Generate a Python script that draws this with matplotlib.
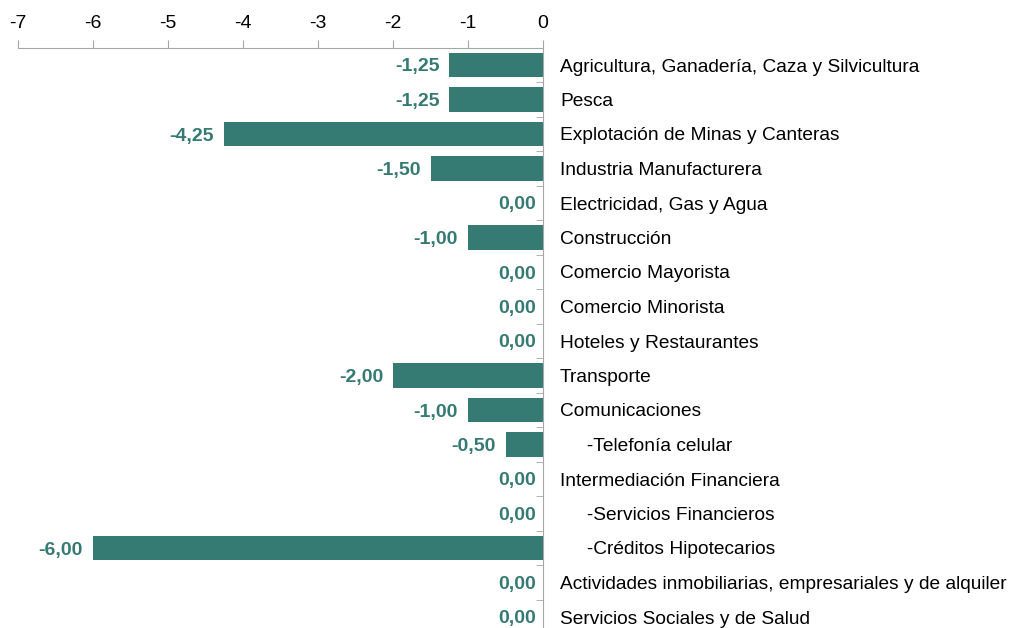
import matplotlib
matplotlib.use("Agg")
import matplotlib.pyplot as plt
import numpy as np

plt.rcParams['font.family'] = ['Liberation Sans', 'DejaVu Sans']

categories = [
    "Agricultura, Ganadería, Caza y Silvicultura",
    "Pesca",
    "Explotación de Minas y Canteras",
    "Industria Manufacturera",
    "Electricidad, Gas y Agua",
    "Construcción",
    "Comercio Mayorista",
    "Comercio Minorista",
    "Hoteles y Restaurantes",
    "Transporte",
    "Comunicaciones",
    "     -Telefonía celular",
    "Intermediación Financiera",
    "     -Servicios Financieros",
    "     -Créditos Hipotecarios",
    "Actividades inmobiliarias, empresariales y de alquiler",
    "Servicios Sociales y de Salud",
]
values = [-1.25, -1.25, -4.25, -1.50, 0.00, -1.00, 0.00, 0.00, 0.00,
          -2.00, -1.00, -0.50, 0.00, 0.00, -6.00, 0.00, 0.00]
xticks = [-7, -6, -5, -4, -3, -2, -1, 0]

bar_color = "#357A73"
label_color = "#357A73"
spine_color = "#A6A6A6"

W, H = 1012, 628
fig = plt.figure(figsize=(W / 100, H / 100), dpi=100)
left_px, right_px = 18, 543
top_px, bottom_px = 47.75, 634.25
ax = fig.add_axes([left_px / W, 1 - bottom_px / H,
                   (right_px - left_px) / W, (bottom_px - top_px) / H])

y = np.arange(len(categories))
ax.barh(y, values, height=0.7, color=bar_color, zorder=2)
ax.set_xlim(-7, 0)
ax.set_ylim(len(categories) - 0.5, -0.5)

ax.xaxis.tick_top()
ax.set_xticks(xticks)
ax.set_xticklabels([str(t) for t in xticks], fontsize=14)
ax.tick_params(axis='x', direction='out', length=6, color=spine_color, pad=5)

ax.set_yticks([])
ax.set_yticks(np.arange(len(categories) + 1) - 0.5, minor=True)
ax.tick_params(axis='y', which='minor', direction='in', length=5,
               color=spine_color, left=False, right=True, labelright=False)

for s in ['bottom', 'left']:
    ax.spines[s].set_visible(False)
ax.spines['top'].set_color(spine_color)
ax.spines['right'].set_color(spine_color)

for yi, (cat, v) in enumerate(zip(categories, values)):
    ax.annotate(cat, xy=(0, yi), xytext=(17, 0), textcoords='offset pixels',
                ha='left', va='center_baseline', fontsize=13.8, color='#000000',
                annotation_clip=False)
    off = -7 if v == 0 else -10
    ax.annotate(f"{v:.2f}".replace('.', ','), xy=(v, yi),
                xytext=(off, 0), textcoords='offset pixels',
                ha='right', va='center_baseline', fontsize=14, fontweight='bold',
                color=label_color, annotation_clip=False)

fig.savefig("out.png", dpi=100)
